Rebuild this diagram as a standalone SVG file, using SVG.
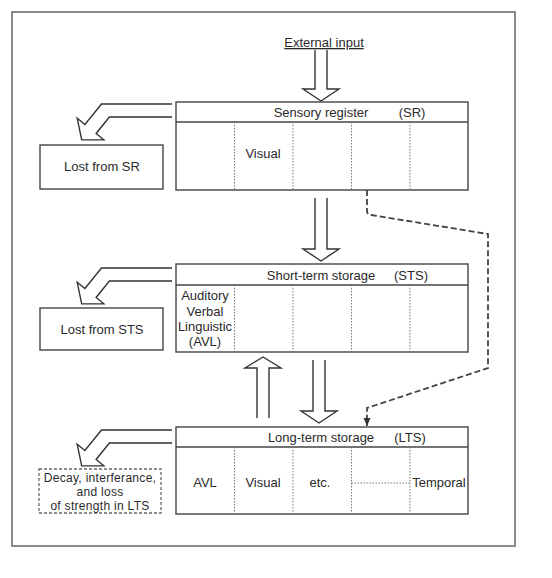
<svg xmlns="http://www.w3.org/2000/svg" width="552" height="578" viewBox="0 0 552 578">
<style>
text{font-family:"Liberation Sans",Arial,sans-serif;font-size:13px;fill:#2a2a2a}
.m{text-anchor:middle}
.sm{font-size:12px;letter-spacing:0.3px}
.box{fill:#fff;stroke:#444;stroke-width:1.4}
.hdr{fill:none;stroke:#444;stroke-width:1.3}
.div{fill:none;stroke:#777;stroke-width:1;stroke-dasharray:1.5 1.5}
.hollow{fill:#fff;stroke:#333;stroke-width:1.4;stroke-linejoin:miter}
.dash{fill:none;stroke:#444;stroke-width:1.8;stroke-dasharray:6 3}
</style>
<defs>
<path id="bent" d="M172,104 H101.5 L84.9,124.5 L77.2,118.3 L81.7,139.9 L103.8,139.7 L96.1,133.5 L109.4,117 H172"/>
<marker id="ah" viewBox="0 0 8 8" refX="8" refY="4" markerWidth="8" markerHeight="8" markerUnits="userSpaceOnUse" orient="auto">
<path d="M0,0.5 L8,4 L0,7.5 Z" fill="#333"/>
</marker>
</defs>
<rect width="552" height="578" fill="#fff"/>
<rect id="frame" x="12" y="12" width="503" height="534" fill="none" stroke="#8a8a8a" stroke-width="2"/>

<g id="external-input">
<text class="m" x="324" y="47" text-decoration="underline">External input</text>
</g>

<g id="sr">
<rect class="box" x="176" y="102" width="292" height="88"/>
<line class="hdr" x1="176" y1="122" x2="468" y2="122"/>
<path class="div" d="M234.5,122V190M293,122V190M351.5,122V190M410,122V190"/>
<text class="m" x="321" y="117">Sensory register</text>
<text class="m" x="412" y="117">(SR)</text>
<text class="m" x="263" y="158">Visual</text>
</g>

<g id="lost-sr">
<rect class="box" x="40" y="145" width="123" height="44"/>
<text class="m" x="102" y="171">Lost from SR</text>
</g>

<g id="sts">
<rect class="box" x="176" y="264" width="292" height="88"/>
<line class="hdr" x1="176" y1="285" x2="468" y2="285"/>
<path class="div" d="M234.5,285V352M293,285V352M351.5,285V352M410,285V352"/>
<text class="m" x="321" y="280">Short-term storage</text>
<text class="m" x="411" y="280">(STS)</text>
<text class="m" x="205" y="300">Auditory</text>
<text class="m" x="205" y="316">Verbal</text>
<text class="m" x="205" y="331">Linguistic</text>
<text class="m" x="205" y="346">(AVL)</text>
</g>

<g id="lost-sts">
<rect class="box" x="40" y="308" width="123" height="42"/>
<text class="m" x="102" y="334">Lost from STS</text>
</g>

<g id="lts">
<rect class="box" x="176" y="427" width="292" height="87"/>
<line class="hdr" x1="176" y1="447" x2="468" y2="447"/>
<path class="div" d="M234.5,447V514M293,447V514M351.5,447V514M410,447V514M351.5,483H410"/>
<text class="m" x="321" y="442">Long-term storage</text>
<text class="m" x="410" y="442">(LTS)</text>
<text class="m" x="205" y="487">AVL</text>
<text class="m" x="263" y="487">Visual</text>
<text class="m" x="320" y="487">etc.</text>
<text class="m" x="439" y="487">Temporal</text>
</g>

<g id="decay">
<rect x="39" y="469" width="122" height="44" fill="#fff" stroke="#666" stroke-width="1.3" stroke-dasharray="3 2"/>
<text class="m sm" x="100" y="482">Decay, interferance,</text>
<text class="m sm" x="100" y="496">and loss</text>
<text class="m sm" x="100" y="510">of strength in LTS</text>
</g>

<g id="connectors">
<path class="hollow" d="M315,50 V89 H303 L321,101 L339,89 H327 V50"/>
<path class="hollow" d="M315,198 V249 H303 L321,261 L339,249 H327 V198"/>
<path class="hollow" d="M313,360 V411 H301 L319,423 L337,411 H325 V360"/>
<path class="hollow" d="M257,418 V368 H245 L263,357 L281,368 H269 V418"/>
<use href="#bent" class="hollow"/>
<use href="#bent" class="hollow" transform="translate(0,164)"/>
<use href="#bent" class="hollow" transform="translate(0,326)"/>
<path class="dash" d="M367,190 V211 Q367,214.5 371,215 L488,234 V368 L367,408 V426" marker-end="url(#ah)"/>
</g>
</svg>
